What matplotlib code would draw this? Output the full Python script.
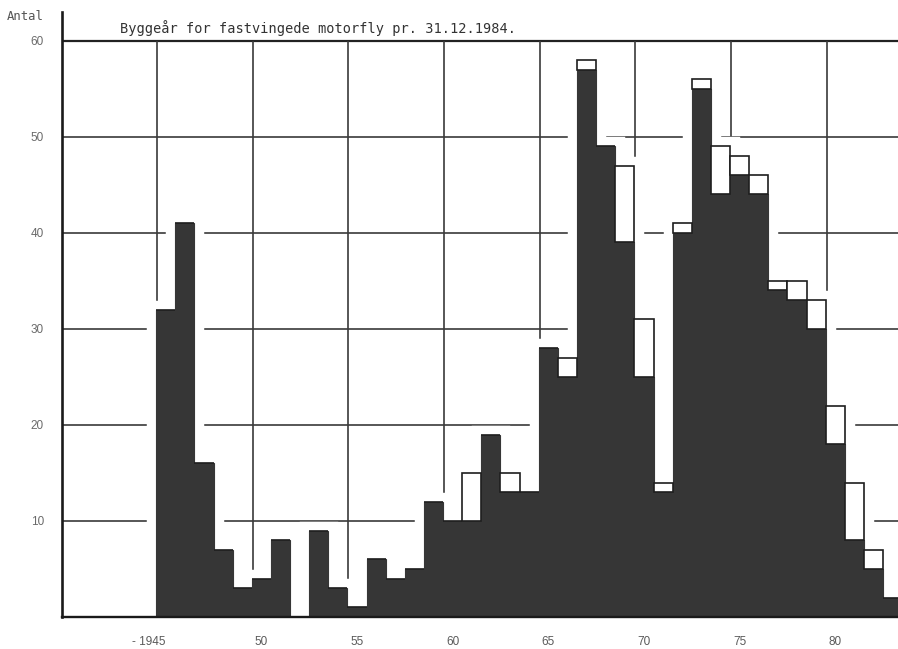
import matplotlib
matplotlib.use("Agg")
import matplotlib.pyplot as plt
import numpy as np

# Construction year of fixed-wing powered aircraft, register as of 31.12.1984
years = list(range(1945, 1984))
dark_counts = [32, 41, 16, 7, 3, 4, 8, 0, 9, 3, 1, 6, 4, 5, 12, 10, 10, 19, 13, 13,
               28, 25, 57, 49, 39, 25, 13, 40, 55, 44, 46, 44, 34, 33, 30, 18, 8, 5, 2]
open_counts = [0, 0, 0, 0, 0, 0, 0, 0, 0, 0, 0, 0, 0, 0, 0, 0, 5, 0, 2, 0,
               0, 2, 1, 0, 8, 6, 1, 1, 1, 5, 2, 2, 1, 2, 3, 4, 6, 2, 0]
y_ticks = [10, 20, 30, 40, 50, 60]
x_tick_years = [1945, 1950, 1955, 1960, 1965, 1970, 1975, 1980]
x_tick_labels = ["- 1945", "50", "55", "60", "65", "70", "75", "80"]
title = "Byggeår for fastvingede motorfly pr. 31.12.1984."
y_label = "Antal"

INK = "#363636"
GRID = "#3a3a3a"

fig = plt.figure(figsize=(8.98, 6.49), dpi=100)
fig.patch.set_facecolor("white")
ax = fig.add_axes([62 / 898, 32 / 649, 836 / 898, 605 / 649])
ax.set_xlim(1939.58, 1983.28)
ax.set_ylim(0, 63)

years_arr = np.array(years)
dark = np.array(dark_counts)
extra = np.array(open_counts)
total = dark + extra

# grid: horizontal rules and vertical rules at every fifth year
for yv in y_ticks[:-1]:
    ax.axhline(yv, color=GRID, lw=1.2, zorder=1)
ax.axhline(60, color="#222222", lw=1.6, zorder=1)
ax.vlines(np.array(x_tick_years) - 0.45, 0, 60, color=GRID, lw=1.2, zorder=1)

# white clearance around the bars so the rules stop short of them
ax.bar(years_arr, total, width=1.0, color="white", edgecolor="white",
       linewidth=14, zorder=2)

# stacked bars: filled lower part, open upper part
ax.bar(years_arr, dark, width=1.0, color=INK, edgecolor=INK, linewidth=0.8, zorder=3)
ax.bar(years_arr, extra, bottom=dark, width=1.0, color="white",
       edgecolor="#1e1e1e", linewidth=1.2, zorder=3)

for side in ("top", "right"):
    ax.spines[side].set_visible(False)
ax.spines["left"].set_linewidth(1.9)
ax.spines["bottom"].set_linewidth(1.7)
for side in ("left", "bottom"):
    ax.spines[side].set_color("#1a1a1a")
    ax.spines[side].set_zorder(5)

ax.set_yticks(y_ticks)
ax.set_yticklabels([str(v) for v in y_ticks])
ax.set_xticks(x_tick_years)
ax.set_xticklabels(x_tick_labels)
ax.tick_params(axis="y", length=0, pad=13, labelsize=8.5, labelcolor="#6a6a6a")
ax.tick_params(axis="x", length=0, pad=13.5, labelsize=8.5, labelcolor="#5a5a5a")
for lbl in ax.get_yticklabels() + ax.get_xticklabels():
    lbl.set_fontfamily("Liberation Sans")
ax.get_xticklabels()[0].set_horizontalalignment("right")

fig.text(120 / 898, 1 - 28 / 649, title, family="DejaVu Sans Mono",
         fontsize=9.8, color="#333333", va="center", ha="left")
fig.text(7 / 898, 1 - 17 / 649, y_label, family="DejaVu Sans Mono",
         fontsize=8.8, color="#555555", va="center", ha="left")

fig.savefig("out.png", dpi=100, facecolor="white")
